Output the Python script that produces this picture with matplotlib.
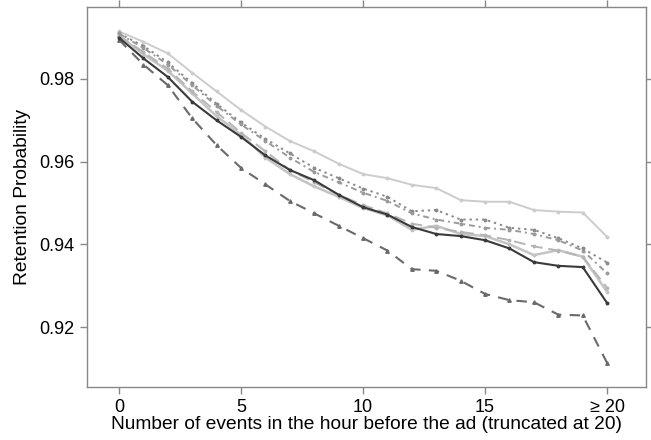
import matplotlib
matplotlib.use("Agg")
import matplotlib.pyplot as plt
import numpy as np

plt.rcParams['font.family'] = ['Liberation Sans', 'DejaVu Sans']

x = list(range(21))
tick_pos = [0, 5, 10, 15, 20]
tick_labels = ["0", "5", "10", "15", "\u2265 20"]
ytick_pos = [0.92, 0.94, 0.96, 0.98]
ytick_labels = ["0.92", "0.94", "0.96", "0.98"]

s_dark_solid = [0.9900, 0.9850, 0.9805, 0.9745, 0.9700, 0.9660, 0.9615, 0.9580, 0.9555, 0.9520, 0.9490,
                0.9472, 0.9442, 0.9425, 0.9420, 0.9410, 0.9390, 0.9357, 0.9348, 0.9345, 0.9258]
s_dark_dashed = [0.9895, 0.9835, 0.9785, 0.9705, 0.9640, 0.9585, 0.9545, 0.9505, 0.9475, 0.9445, 0.9415,
                 0.9385, 0.9340, 0.9336, 0.9312, 0.9280, 0.9265, 0.9260, 0.9230, 0.9228, 0.9113]
s_light_solid = [0.9915, 0.9890, 0.9862, 0.9815, 0.9770, 0.9725, 0.9685, 0.9650, 0.9625, 0.9595, 0.9570,
                 0.9560, 0.9544, 0.9536, 0.9507, 0.9503, 0.9503, 0.9483, 0.9479, 0.9477, 0.9418]
s_dotted = [0.9910, 0.9880, 0.9840, 0.9790, 0.9740, 0.9695, 0.9655, 0.9620, 0.9585, 0.9560, 0.9535,
            0.9515, 0.9480, 0.9483, 0.9460, 0.9460, 0.9440, 0.9435, 0.9415, 0.9390, 0.9356]
s_dashdot = [0.9910, 0.9875, 0.9835, 0.9785, 0.9735, 0.9690, 0.9650, 0.9610, 0.9575, 0.9550, 0.9525,
             0.9505, 0.9475, 0.9460, 0.9450, 0.9440, 0.9435, 0.9425, 0.9410, 0.9385, 0.9330]
s_longdash = [0.9905, 0.9865, 0.9825, 0.9770, 0.9720, 0.9670, 0.9625, 0.9580, 0.9550, 0.9520, 0.9495,
              0.9475, 0.9450, 0.9440, 0.9430, 0.9422, 0.9410, 0.9395, 0.9385, 0.9370, 0.9295]
s_light_solid2 = [0.9905, 0.9860, 0.9820, 0.9765, 0.9710, 0.9665, 0.9610, 0.9570, 0.9540, 0.9515, 0.9488,
                  0.9470, 0.9435, 0.9445, 0.9425, 0.9420, 0.9400, 0.9374, 0.9386, 0.9370, 0.9285]

fig = plt.figure(figsize=(6.51, 4.40), dpi=100)
ax = fig.add_axes([0.1336, 0.1205, 0.859, 0.8635])

ax.plot(x, s_light_solid, color='#cccccc', lw=1.4, marker='o', ms=1.8, zorder=2)
ax.plot(x, s_light_solid2, color='#c4c4c4', lw=1.8, marker='o', ms=1.8, zorder=2)
ax.plot(x, s_longdash, color='#b5b5b5', lw=1.4, ls=(0, (6, 3)), marker='o', ms=1.8, zorder=2)
ax.plot(x, s_dotted, color='#8a8a8a', lw=1.4, ls=(0, (1.2, 2)), marker='o', ms=1.8, zorder=3)
ax.plot(x, s_dashdot, color='#9a9a9a', lw=1.4, ls=(0, (3, 2, 1, 2)), marker='o', ms=1.8, zorder=3)
ax.plot(x, s_dark_dashed, color='#6a6a6a', lw=1.5, ls=(0, (5, 4)), marker='^', ms=2.5, zorder=4)
ax.plot(x, s_dark_solid, color='#3a3a3a', lw=1.5, marker='o', ms=1.8, zorder=5)

ax.set_xlim(-1.31, 21.6)
ax.set_ylim(0.9055, 0.9974)
ax.set_xticks(tick_pos)
ax.set_xticklabels(tick_labels)
ax.set_yticks(ytick_pos)
ax.set_yticklabels(ytick_labels)

for sp in ax.spines.values():
    sp.set_color('#888888')
    sp.set_linewidth(1.0)
ax.tick_params(axis='both', direction='out', length=5, width=1, color='#888888',
               labelsize=13, labelcolor='black', pad=4,
               top=True, right=True, labeltop=False, labelright=False)

ax.set_xlabel("Number of events in the hour before the ad (truncated at 20)", fontsize=13.8, labelpad=0)
ax.set_ylabel("Retention Probability", fontsize=13.8, labelpad=6)

fig.savefig("out.png", dpi=100)
